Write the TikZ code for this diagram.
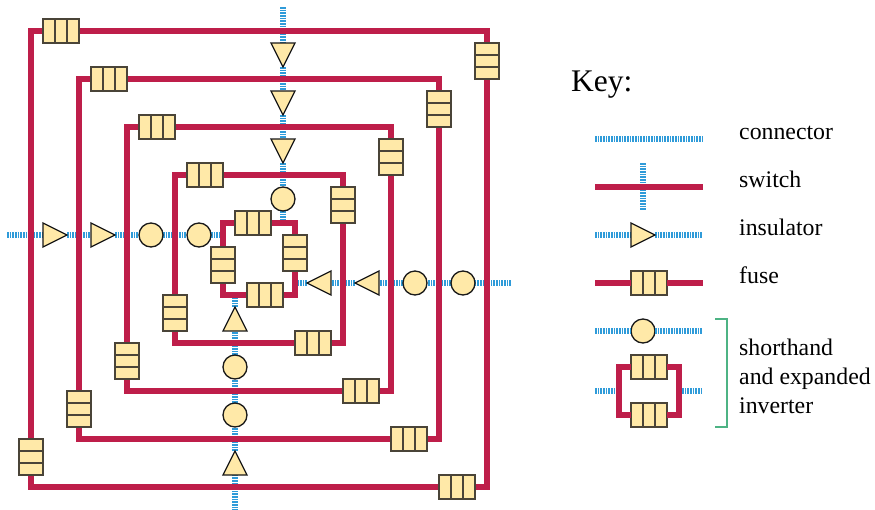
\documentclass[tikz,border=0pt]{standalone}
\usepackage{fontspec}
\setmainfont{Liberation Serif}
\usetikzlibrary{shapes.geometric,calc}
\pgfdeclarelayer{bluelayer}
\pgfdeclarelayer{redlayer}
\definecolor{wire}{HTML}{BE1E4A}
\definecolor{poly}{HTML}{2F9BD9}
\definecolor{padfill}{HTML}{FFE9A8}
\definecolor{edge}{HTML}{4A4438}
\definecolor{brace}{HTML}{4DB384}
\tikzset{
  x=1pt,y=-1pt,
  redwire/.style={draw=wire,line width=5.6pt,line join=miter},
  bluewire/.style={draw=poly,line width=6pt,dash pattern=on 1.6pt off 1.07pt},
  hfuse/.style={draw=edge,fill=padfill,line width=1.6pt,minimum width=36pt,minimum height=24pt,inner sep=0pt,outer sep=0pt,rectangle,
    path picture={\draw[edge,line width=1.6pt] ($(path picture bounding box.west)+(12pt,-12pt)$) -- +(0,24pt) ($(path picture bounding box.west)+(24pt,-12pt)$) -- +(0,24pt);}},
  vfuse/.style={draw=edge,fill=padfill,line width=1.6pt,minimum width=24pt,minimum height=36pt,inner sep=0pt,outer sep=0pt,rectangle,
    path picture={\draw[edge,line width=1.6pt] ($(path picture bounding box.north)+(-12pt,-12pt)$) -- +(24pt,0) ($(path picture bounding box.south)+(-12pt,12pt)$) -- +(24pt,0);}},
  inv/.style={draw=black!90,fill=padfill,line width=1.3pt,circle,minimum size=24pt,inner sep=0pt,outer sep=0pt},
  tri/.style={draw=black!90,fill=padfill,line width=1.3pt,isosceles triangle,isosceles triangle stretches,minimum width=24pt,minimum height=24pt,inner sep=0pt,outer sep=0pt,anchor=apex,shape border rotate=#1},
  keytext/.style={anchor=base west,font=\fontsize{23.8}{28}\selectfont,inner sep=0pt},
}
\begin{document}
\begin{tikzpicture}
\pgfsetlayers{bluelayer,redlayer,main}
\useasboundingbox (0,0) rectangle (875,509);
% fuses of the five loops
\node[hfuse] (fAt) at (61,31) {};
\node[vfuse] (fAr) at (487,61) {};
\node[hfuse] (fAb) at (457,487) {};
\node[vfuse] (fAl) at (31,457) {};
\node[hfuse] (fBt) at (109,79) {};
\node[vfuse] (fBr) at (439,109) {};
\node[hfuse] (fBb) at (409,439) {};
\node[vfuse] (fBl) at (79,409) {};
\node[hfuse] (fCt) at (157,127) {};
\node[vfuse] (fCr) at (391,157) {};
\node[hfuse] (fCb) at (361,391) {};
\node[vfuse] (fCl) at (127,361) {};
\node[hfuse] (fDt) at (205,175) {};
\node[vfuse] (fDr) at (343,205) {};
\node[hfuse] (fDb) at (313,343) {};
\node[vfuse] (fDl) at (175,313) {};
\node[hfuse] (fEt) at (253,223) {};
\node[vfuse] (fEr) at (295,253) {};
\node[hfuse] (fEb) at (265,295) {};
\node[vfuse] (fEl) at (223,265) {};
% gates
\node[tri=-90] (t1) at (283,67) {};
\node[tri=-90] (t2) at (283,115) {};
\node[tri=-90] (t3) at (283,163) {};
\node[inv] (c1) at (283,199) {};
\node[tri=0] (l1) at (67,235) {};
\node[tri=0] (l2) at (115,235) {};
\node[inv] (c2) at (151,235) {};
\node[inv] (c3) at (199,235) {};
\node[tri=180] (r1) at (307,283) {};
\node[tri=180] (r2) at (355,283) {};
\node[inv] (c4) at (415,283) {};
\node[inv] (c5) at (463,283) {};
\node[tri=90] (b1) at (235,307) {};
\node[inv] (c6) at (235,367) {};
\node[inv] (c7) at (235,415) {};
\node[tri=90] (b2) at (235,451) {};
% free ends of the blue lines
\coordinate (tEnd) at (283,7);
\coordinate (tIn) at (283,223);
\coordinate (lEnd) at (7,235);
\coordinate (lIn) at (223,235);
\coordinate (rEnd) at (511,283);
\coordinate (rIn) at (295,283);
\coordinate (bEnd) at (235,511);
\coordinate (bIn) at (235,295);
\begin{pgfonlayer}{bluelayer}
\draw[bluewire] (tEnd) -- (t1.lower side);
\draw[bluewire] (t1.apex) -- (t2.lower side);
\draw[bluewire] (t2.apex) -- (t3.lower side);
\draw[bluewire] (t3.apex) -- (c1.north);
\draw[bluewire] (c1.south) -- (tIn);
\draw[bluewire] (lEnd) -- (l1.lower side);
\draw[bluewire] (l1.apex) -- (l2.lower side);
\draw[bluewire] (l2.apex) -- (c2.west);
\draw[bluewire] (c2.east) -- (c3.west);
\draw[bluewire] (c3.east) -- (lIn);
\draw[bluewire] (rEnd) -- (c5.east);
\draw[bluewire] (c5.west) -- (c4.east);
\draw[bluewire] (c4.west) -- (r2.lower side);
\draw[bluewire] (r2.apex) -- (r1.lower side);
\draw[bluewire] (r1.apex) -- (rIn);
\draw[bluewire] (bEnd) -- (b2.lower side);
\draw[bluewire] (b2.apex) -- (c7.south);
\draw[bluewire] (c7.north) -- (c6.south);
\draw[bluewire] (c6.north) -- (b1.lower side);
\draw[bluewire] (b1.apex) -- (bIn);
\end{pgfonlayer}
\begin{pgfonlayer}{redlayer}
\foreach \n in {A,B,C,D,E}{
  \draw[redwire] (f\n t.east) -| (f\n r.north);
  \draw[redwire] (f\n r.south) |- (f\n b.east);
  \draw[redwire] (f\n b.west) -| (f\n l.south);
  \draw[redwire] (f\n l.north) |- (f\n t.west);
}
\end{pgfonlayer}
% key
\node[anchor=base west,inner sep=0pt,font=\fontsize{31.5}{36}\selectfont] (keytitle) at (571,91) {Key:};
\coordinate (k1a) at (595,139); \coordinate (k1b) at (703,139);
\draw[bluewire] (k1a) -- (k1b);
\node[keytext] (k1t) at (739,139) {connector};
\coordinate (k2v1) at (643,163); \coordinate (k2v2) at (643,211);
\coordinate (k2a) at (595,187); \coordinate (k2b) at (703,187);
\draw[bluewire] (k2v1) -- (k2v2);
\draw[redwire] (k2a) -- (k2b);
\node[keytext] (k2t) at (739,187) {switch};
\coordinate (k3a) at (595,235); \coordinate (k3b) at (703,235);
\node[tri=0] (k3g) at (655,235) {};
\begin{pgfonlayer}{bluelayer}
\draw[bluewire] (k3a) -- (k3g.lower side);
\draw[bluewire] (k3g.apex) -- (k3b);
\end{pgfonlayer}
\node[keytext] (k3t) at (739,235) {insulator};
\coordinate (k4a) at (595,283); \coordinate (k4b) at (703,283);
\node[hfuse] (k4f) at (649,283) {};
\draw[redwire] (k4a) -- (k4f.west);
\draw[redwire] (k4f.east) -- (k4b);
\node[keytext] (k4t) at (739,283) {fuse};
\coordinate (k5a) at (595,331); \coordinate (k5b) at (703,331);
\node[inv] (k5c) at (643,331) {};
\draw[bluewire] (k5a) -- (k5c.west);
\draw[bluewire] (k5c.east) -- (k5b);
\coordinate (k6a) at (595,391); \coordinate (k6b) at (703,391);
\coordinate (k6l) at (616,391); \coordinate (k6r) at (682,391);
\draw[bluewire] (k6a) -- (k6l);
\draw[bluewire] (k6r) -- (k6b);
\node[hfuse] (k6u) at (649,367) {};
\node[hfuse] (k6d) at (649,415) {};
\draw[redwire] (k6u.west) -- (619,367) -- (619,415) -- (k6d.west);
\draw[redwire] (k6u.east) -- (679,367) -- (679,415) -- (k6d.east);
\coordinate (br1) at (715,319); \coordinate (br2) at (715,427);
\draw[brace,line width=1.5pt] (br1) -- (727,319) -- (727,427) -- (br2);
\node[keytext] (k7a) at (739,355) {shorthand};
\node[keytext] (k7b) at (739,384) {and expanded};
\node[keytext] (k7c) at (739,413) {inverter};
\end{tikzpicture}
\end{document}
